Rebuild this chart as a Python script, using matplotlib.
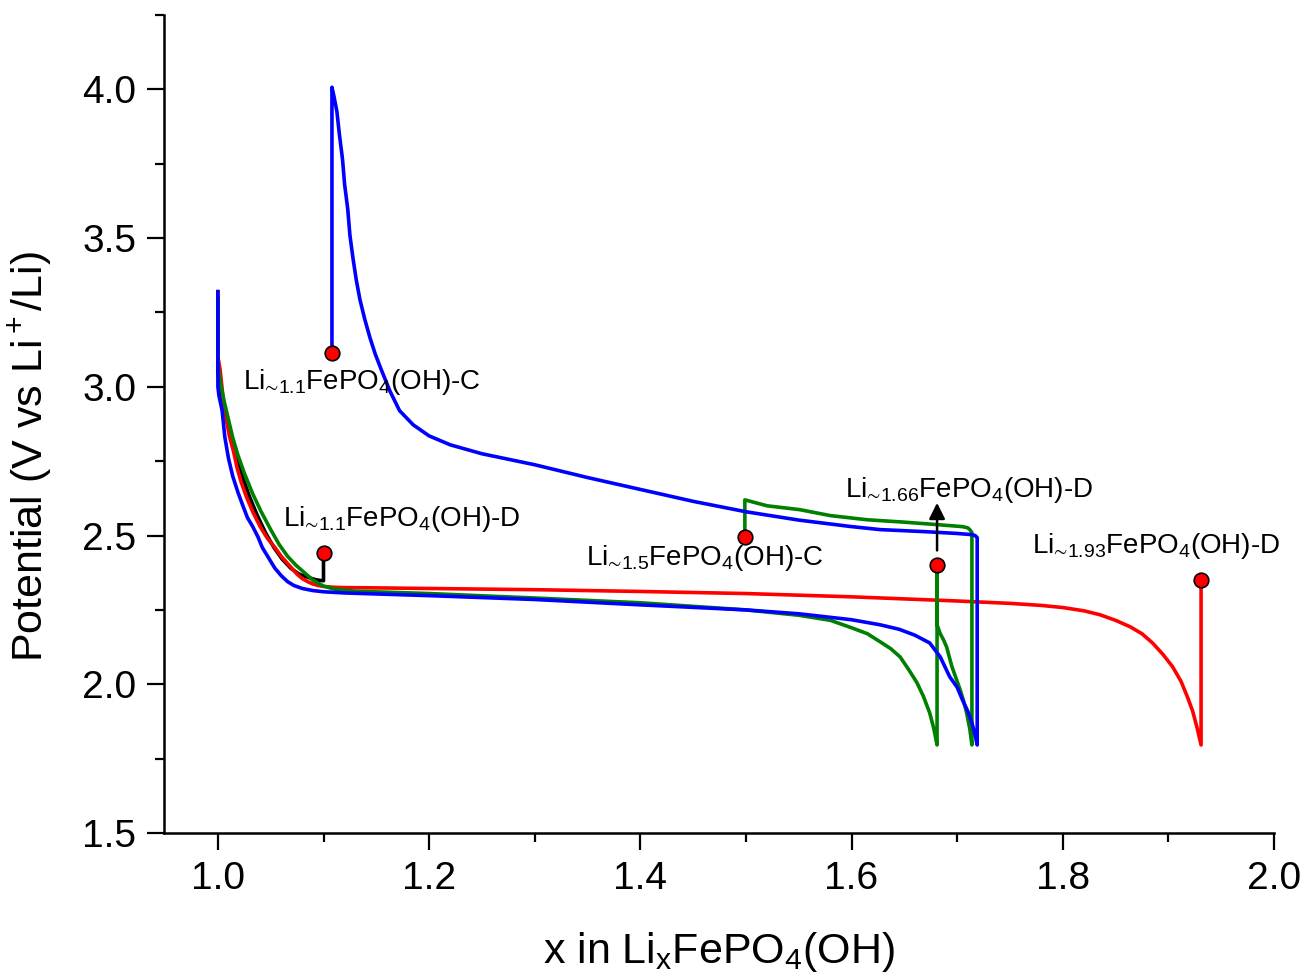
import matplotlib
matplotlib.use('Agg')
import matplotlib.pyplot as plt
from matplotlib.ticker import MultipleLocator, FormatStrFormatter

plt.rcParams['font.family'] = ['Liberation Sans', 'DejaVu Sans']
plt.rcParams['mathtext.fontset'] = 'custom'
plt.rcParams['mathtext.rm'] = 'Liberation Sans'
plt.rcParams['mathtext.it'] = 'Liberation Sans:italic'
plt.rcParams['mathtext.bf'] = 'Liberation Sans:bold'

# first discharge to x ~ 1.1 then relaxation
black_x = [1.0, 1.0, 1.002, 1.005, 1.009, 1.013, 1.018, 1.024, 1.030, 1.037,
           1.045, 1.053, 1.061, 1.069, 1.077, 1.085, 1.092, 1.097, 1.100, 1.100]
black_y = [3.30, 3.05, 3.00, 2.95, 2.88, 2.82, 2.75, 2.69, 2.63, 2.57,
           2.51, 2.46, 2.42, 2.39, 2.37, 2.36, 2.352, 2.349, 2.348, 2.44]

# discharge to x ~ 1.93 then relaxation
red_x = [1.0, 1.0, 1.002, 1.005, 1.008, 1.011, 1.015, 1.018, 1.022, 1.027,
         1.033, 1.040, 1.047, 1.054, 1.060, 1.065, 1.070, 1.075, 1.080, 1.085,
         1.090, 1.095, 1.100, 1.110, 1.12, 1.15, 1.2, 1.3, 1.4, 1.5,
         1.6, 1.7, 1.75, 1.78, 1.8, 1.82, 1.835, 1.85, 1.864, 1.875,
         1.885, 1.895, 1.904, 1.912, 1.918, 1.923, 1.927, 1.931, 1.931]
red_y = [3.32, 3.10, 3.06, 2.96, 2.89, 2.833, 2.78, 2.73, 2.68, 2.63,
         2.58, 2.53, 2.49, 2.46, 2.43, 2.41, 2.39, 2.37, 2.355, 2.345,
         2.337, 2.332, 2.329, 2.326, 2.325, 2.324, 2.322, 2.318, 2.312, 2.305,
         2.294, 2.28, 2.272, 2.265, 2.258, 2.247, 2.234, 2.215, 2.193, 2.17,
         2.139, 2.10, 2.059, 2.01, 1.958, 1.91, 1.857, 1.796, 2.351]

# discharge to 1.68, relax, discharge to 1.71, charge back to 1.5, relax
green_x = [1.0, 1.0, 1.002, 1.006, 1.010, 1.014, 1.019, 1.025, 1.033, 1.041,
           1.050, 1.058, 1.066, 1.074, 1.082, 1.090, 1.100, 1.110, 1.13, 1.2,
           1.3, 1.4, 1.5, 1.55, 1.58, 1.6, 1.615, 1.627, 1.637, 1.646,
           1.654, 1.662, 1.668, 1.674, 1.678, 1.681, 1.681, 1.681, 1.684, 1.687,
           1.690, 1.695, 1.699, 1.703, 1.706, 1.709, 1.712, 1.714, 1.714, 1.712,
           1.710, 1.705, 1.68, 1.65, 1.615, 1.58, 1.551, 1.52, 1.499, 1.499]
green_y = [3.30, 3.08, 3.02, 2.95, 2.89, 2.83, 2.77, 2.71, 2.64, 2.58,
           2.52, 2.47, 2.43, 2.40, 2.375, 2.35, 2.33, 2.32, 2.313, 2.305,
           2.29, 2.274, 2.25, 2.232, 2.215, 2.19, 2.17, 2.143, 2.12, 2.092,
           2.05, 2.005, 1.96, 1.904, 1.85, 1.796, 2.40, 2.20, 2.17, 2.15,
           2.126, 2.06, 2.02, 1.98, 1.945, 1.904, 1.85, 1.796, 2.51, 2.52,
           2.526, 2.53, 2.537, 2.545, 2.553, 2.567, 2.587, 2.60, 2.62, 2.496]

# discharge to 1.72, charge back to 1.108 (4.0 V cut-off), relax
blue_x = [1.0, 1.0, 1.001, 1.004, 1.0066, 1.010, 1.014, 1.019, 1.024, 1.028,
          1.033, 1.038, 1.042, 1.048, 1.054, 1.060, 1.066, 1.072, 1.080, 1.090,
          1.100, 1.12, 1.2, 1.3, 1.4, 1.5, 1.55, 1.6, 1.627, 1.645,
          1.660, 1.674, 1.684, 1.693, 1.700, 1.705, 1.710, 1.714, 1.717, 1.719,
          1.719, 1.717, 1.714, 1.70, 1.67, 1.627, 1.6, 1.55, 1.5, 1.45,
          1.4, 1.35, 1.3, 1.25, 1.22, 1.2, 1.185, 1.172, 1.163, 1.155,
          1.149, 1.144, 1.139, 1.1345, 1.131, 1.128, 1.125, 1.123, 1.120, 1.118,
          1.115, 1.1127, 1.110, 1.108, 1.108]
blue_y = [3.32, 3.0, 2.97, 2.92, 2.83, 2.76, 2.70, 2.645, 2.597, 2.56,
          2.53, 2.495, 2.46, 2.425, 2.39, 2.365, 2.345, 2.332, 2.322, 2.315,
          2.311, 2.307, 2.298, 2.285, 2.267, 2.25, 2.237, 2.217, 2.20, 2.185,
          2.165, 2.139, 2.092, 2.025, 1.99, 1.948, 1.91, 1.87, 1.83, 1.796,
          2.493, 2.50, 2.503, 2.507, 2.513, 2.52, 2.53, 2.552, 2.58, 2.615,
          2.655, 2.695, 2.738, 2.775, 2.805, 2.835, 2.872, 2.92, 2.985, 3.055,
          3.11, 3.165, 3.228, 3.293, 3.36, 3.43, 3.51, 3.596, 3.68, 3.765,
          3.85, 3.925, 3.975, 4.007, 3.115]

# end-of-relaxation points
dot_x = [1.108, 1.100, 1.499, 1.681, 1.931]
dot_y = [3.115, 2.44, 2.496, 2.40, 2.351]

labels = ['Li$_{∼1.1}$FePO$_4$(OH)-C',
          'Li$_{∼1.1}$FePO$_4$(OH)-D',
          'Li$_{∼1.5}$FePO$_4$(OH)-C',
          'Li$_{∼1.66}$FePO$_4$(OH)-D',
          'Li$_{∼1.93}$FePO$_4$(OH)-D']
label_x = [1.024, 1.062, 1.349, 1.594, 1.771]
label_y = [3.017, 2.556, 2.425, 2.654, 2.466]

fig = plt.figure(figsize=(13.05, 9.8), dpi=100)
ax = fig.add_axes([0.1257, 0.15, 0.8505, 0.8347])

ax.plot(black_x, black_y, color='black', lw=2.6)
ax.plot(red_x, red_y, color='#ff0000', lw=2.6)
ax.plot(green_x, green_y, color='#008000', lw=2.6)
ax.plot(blue_x, blue_y, color='#0000ff', lw=2.6)
ax.plot(dot_x, dot_y, 'o', color='#ff0000', mec='black', mew=1.2, ms=10.5, zorder=5)

for s, tx, ty in zip(labels, label_x, label_y):
    ax.text(tx, ty, s, fontsize=20, ha='left', va='center')

ax.annotate('', xy=(1.681, 2.61), xytext=(1.681, 2.45),
            arrowprops=dict(arrowstyle='-|>', color='black', lw=1.8,
                            mutation_scale=24, shrinkA=0, shrinkB=0))

ax.set_xlim(0.949, 2.0)
ax.set_ylim(1.5, 4.25)
ax.xaxis.set_major_locator(MultipleLocator(0.2))
ax.xaxis.set_minor_locator(MultipleLocator(0.1))
ax.yaxis.set_major_locator(MultipleLocator(0.5))
ax.yaxis.set_minor_locator(MultipleLocator(0.25))
ax.tick_params(which='major', direction='out', length=12, width=1.6,
               labelsize=28, pad=8)
ax.tick_params(which='minor', direction='out', length=6.5, width=1.6)
ax.xaxis.set_major_formatter(FormatStrFormatter('%.1f'))
ax.yaxis.set_major_formatter(FormatStrFormatter('%.1f'))

for side in ['top', 'right']:
    ax.spines[side].set_visible(False)
for side in ['left', 'bottom']:
    ax.spines[side].set_linewidth(1.8)

ax.set_xlabel(r'x in Li$_\mathregular{x}$FePO$_4$(OH)', fontsize=31, labelpad=24)
ax.set_ylabel(r'Potential (V vs Li$^+$/Li)', fontsize=31)
ax.yaxis.set_label_coords(-0.099, 0.46)

fig.savefig('out.png', dpi=100)
